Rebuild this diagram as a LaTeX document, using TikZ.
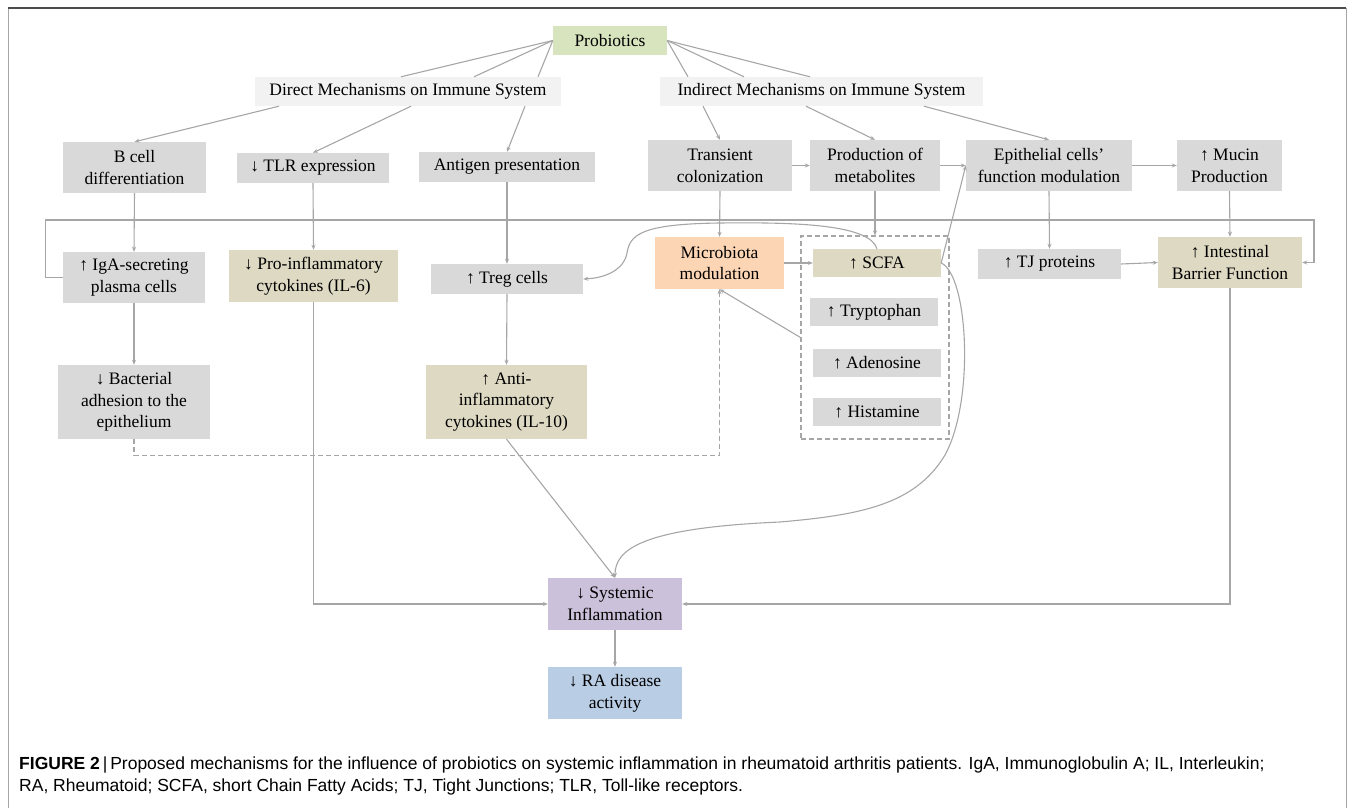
\documentclass[tikz,border=0pt]{standalone}
\usepackage{fontspec}
\setmainfont{Liberation Serif}
\newfontfamily\capfont{Liberation Sans}
\usetikzlibrary{arrows.meta}

\definecolor{lgray}{HTML}{A6A6A6}
\definecolor{boxgray}{HTML}{D9D9D9}
\definecolor{headgray}{HTML}{F2F2F2}
\definecolor{tan}{HTML}{DDD9C3}
\definecolor{probgreen}{HTML}{D7E4BD}
\definecolor{microorange}{HTML}{FCD5B5}
\definecolor{syslilac}{HTML}{CCC1DA}
\definecolor{rablue}{HTML}{B9CDE5}

\begin{document}
\begin{tikzpicture}[x=1pt, y=-1pt,
	box/.style={fill=boxgray, inner sep=0pt, align=center, text=black, font=\fontsize{17.5}{21.7}\selectfont},
	headbox/.style={box, fill=headgray},
	metabbox/.style={draw=lgray, line width=1.1pt, dash pattern=on 5pt off 3pt, inner sep=0pt},
	link/.style={draw=lgray, line width=1.1pt},
	conn/.style={link, -{Stealth[length=5pt, width=4pt]}},
	dashlink/.style={conn, dash pattern=on 5pt off 3pt},
	captext/.style={anchor=base west, inner sep=0pt, font=\capfont\fontsize{17.5}{21}\selectfont}]
	 \useasboundingbox (0,0) rectangle (1355,808);
	 \draw[gray!70, line width=1pt] (8,808) -- (8,8);
	 \draw[gray!70, line width=1pt] (1346,8) -- (1346,808);
	 \draw[black!70, line width=1.4pt] (8,8) -- (1346,8);
	 
	 % top row
	 \node[box, fill=probgreen, minimum width=114pt, minimum height=29pt] (prob) at (610,40.5) {Probiotics};
	 \node[headbox, minimum width=306pt, minimum height=29pt] (direct) at (408,91.5) {Direct Mechanisms on Immune System};
	 \node[headbox, minimum width=323pt, minimum height=29pt] (indirect) at (821.5,91.5) {Indirect Mechanisms on Immune System};
	 
	 \node[box, minimum width=143pt, minimum height=51pt] (bcell) at (134.5,167.5) {B cell\\differentiation};
	 \node[box, minimum width=152pt, minimum height=30pt] (tlr) at (313,168) {↓ TLR expression};
	 \node[box, minimum width=176pt, minimum height=30pt] (antigen) at (507,167) {Antigen presentation};
	 \node[box, minimum width=144pt, minimum height=51pt] (transient) at (720,165.5) {Transient\\colonization};
	 \node[box, minimum width=130pt, minimum height=51pt] (production) at (875,165.5) {Production of\\metabolites};
	 \node[box, minimum width=166pt, minimum height=51pt] (epithelial) at (1049,165.5) {Epithelial cells’\\function modulation};
	 \node[box, minimum width=105pt, minimum height=51pt] (mucin) at (1229.5,165.5) {↑ Mucin\\Production};
	 
	 % middle row
	 \node[box, minimum width=142pt, minimum height=51pt] (iga) at (134,277.5) {↑ IgA-secreting\\plasma cells};
	 \node[box, fill=tan, minimum width=169pt, minimum height=52pt] (proinf) at (313.5,276) {↓ Pro-inflammatory\\cytokines (IL-6)};
	 \node[box, minimum width=152pt, minimum height=30pt] (treg) at (507,279) {↑ Treg cells};
	 \node[box, fill=microorange, minimum width=129pt, minimum height=52pt] (micro) at (719.5,263) {Microbiota\\modulation};
	 \node[metabbox, minimum width=148pt, minimum height=203pt] (metab) at (875,337.5) {};
	 \node[box, fill=tan, minimum width=128pt, minimum height=28pt] (scfa) at (877,263) {↑ SCFA};
	 \node[box, minimum width=128pt, minimum height=28pt] (trypt) at (874,312) {↑ Tryptophan};
	 \node[box, minimum width=128pt, minimum height=28pt] (adeno) at (877,363) {↑ Adenosine};
	 \node[box, minimum width=128pt, minimum height=28pt] (hista) at (877,412) {↑ Histamine};
	 \node[box, minimum width=143pt, minimum height=30pt] (tj) at (1049.5,264) {↑ TJ proteins};
	 \node[box, fill=tan, minimum width=144pt, minimum height=51pt] (barrier) at (1230,262.5) {↑ Intestinal\\Barrier Function};
	 
	 \node[box, minimum width=152pt, minimum height=74pt] (bact) at (134,402) {↓ Bacterial\\adhesion to the\\epithelium};
	 \node[box, fill=tan, minimum width=161pt, minimum height=74pt] (antiinf) at (506.5,402) {↑ Anti-\\inflammatory\\cytokines (IL-10)};
	 
	 % outcome
	 \node[box, fill=syslilac, minimum width=134pt, minimum height=52pt] (systemic) at (615,604) {↓ Systemic\\Inflammation};
	 \node[box, fill=rablue, minimum width=134pt, minimum height=52pt] (radis) at (615,693) {↓ RA disease\\activity};
	 
	 \foreach \dx in {-7, 66, 130}
	 \draw[link] (prob.west) -- ([xshift=\dx pt]direct.north);
	 \foreach \dx in {-133.5, -77.5, -11.5}
	 \draw[link] (prob.east) -- ([xshift=\dx pt]indirect.north);
	 
	 \draw[conn] ([xshift=-129pt]direct.south) -- (bcell.north);
	 \draw[conn] ([xshift=3pt]direct.south) -- (tlr.north);
	 \draw[conn] ([xshift=117pt]direct.south) -- (antigen.north);
	 \draw[conn] ([xshift=-118.5pt]indirect.south) -- (transient.north);
	 \draw[conn] ([xshift=-15.5pt]indirect.south) -- (production.north);
	 \draw[conn] ([xshift=102.5pt]indirect.south) -- (epithelial.north);
	 
	 \draw[conn] (transient.east) -- (production.west);
	 \draw[conn] (production.east) -- (epithelial.west);
	 \draw[conn] (epithelial.east) -- (mucin.west);
	 
	 \draw[conn] (bcell.south) -- (iga.north);
	 \draw[conn] (iga.south) -- (bact.north);
	 \draw[conn] (tlr.south) -- (proinf.north);
	 \draw[conn] (antigen.south) -- (treg.north);
	 \draw[conn] (treg.south) -- (antiinf.north);
	 \draw[conn] (transient.south) -- (micro.north);
	 \draw[conn] (production.south) -- (metab.north);
	 \draw[conn] (epithelial.south) -- (tj.north);
	 \draw[conn] (mucin.south) -- (barrier.north);
	 \draw[conn] (micro.east) -- (scfa.west);
	 \draw[conn] (tj.east) -- (barrier.west);
	 \draw[conn] (scfa.east) -- (epithelial.west);
	 \draw[conn] (metab.west) -- (micro.south);
	 \draw[dashlink] (bact.south) -- ++(0,16) -| (micro.south);
	 
	 \coordinate (loopturn) at (1314,220);
	 \draw[conn] (iga.west) -- ++(-17,0) |- (loopturn) |- (barrier.east);
	 
	 \draw[conn] (scfa.north) .. controls (870,225) and (800,222) .. (720,223) .. controls (640,224) and (630,235) .. (627,253) .. controls (624,270) and (605,278) .. (treg.east);
	 \draw[conn] (scfa.east) .. controls (968,275) and (975,400) .. (945,455) .. controls (915,505) and (860,515) .. (780,522) .. controls (640,528) and (615,550) .. (systemic.north);
	 
	 \draw[conn] (proinf.south) |- (systemic.west);
	 \draw[conn] (barrier.south) |- (systemic.east);
	 \draw[conn] (antiinf.south) -- (systemic.north);
	 \draw[conn] (systemic.south) -- (radis.north);
	 
	 \node[captext] (cap1) at (19,769) {\textbf{FIGURE 2}\,|\,Proposed mechanisms for the influence of probiotics on systemic inflammation in rheumatoid arthritis patients. IgA, Immunoglobulin A; IL, Interleukin;};
	 \node[captext] (cap2) at (19,791) {RA, Rheumatoid; SCFA, short Chain Fatty Acids; TJ, Tight Junctions; TLR, Toll-like receptors.};
\end{tikzpicture}
\end{document}
